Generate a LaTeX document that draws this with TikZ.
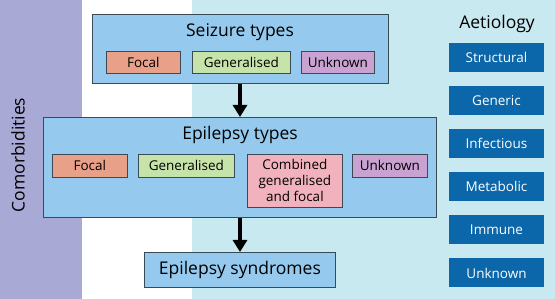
\documentclass[tikz,border=0pt]{standalone}
\usepackage{fontspec}
\setmainfont{Open Sans}
\usetikzlibrary{arrows.meta}
\definecolor{purp}{HTML}{A9A9D6}
\definecolor{cyanbg}{HTML}{C9E9F1}
\definecolor{boxblue}{HTML}{95CAEE}
\definecolor{focalc}{HTML}{E9A088}
\definecolor{genc}{HTML}{C6E4AA}
\definecolor{unkc}{HTML}{C9A2D2}
\definecolor{combc}{HTML}{F1B2BD}
\definecolor{aetc}{HTML}{0B67A9}
\definecolor{edge}{HTML}{3A4A55}
\tikzset{
  bigbox/.style={draw=edge, line width=0.8pt, fill=boxblue},
  small/.style={draw=edge, line width=0.7pt, inner sep=0pt, font=\fontsize{13.5}{16}\selectfont, text=black},
  aet/.style={fill=aetc, inner sep=0pt, minimum width=95pt, minimum height=29pt, text=white, font=\fontsize{13.5}{15}\selectfont},
  title/.style={font=\fontsize{17.5}{20}\selectfont, text=black},
  flow/.style={-{Triangle[length=12pt,width=14pt]}, line width=3.5pt, black}
}
\begin{document}
\begin{tikzpicture}[x=1pt,y=-1pt]
\useasboundingbox (0,0) rectangle (555,299);
\fill[white] (0,0) rectangle (555,299);
\fill[purp] (0,0) rectangle (82,299);
\fill[cyanbg] (192,0) rectangle (555,299);
\node[rotate=90, title] (comorb) at (18,155) {Comorbidities};
% Seizure types
\node[bigbox, minimum width=296pt, minimum height=69pt, anchor=north west, inner sep=0pt] (seiz) at (92,14) {};
\node[title] (seizt) at (240,32) {Seizure types};
\node[small, fill=focalc, minimum width=74pt, minimum height=22pt, anchor=north west] (sf) at (106,51) {Focal};
\node[small, fill=genc, minimum width=98pt, minimum height=22pt, anchor=north west] (sg) at (192,51) {Generalised};
\node[small, fill=unkc, minimum width=73pt, minimum height=22pt, anchor=north west] (su) at (301,51) {Unknown};
% Epilepsy types
\node[bigbox, minimum width=393pt, minimum height=100pt, anchor=north west, inner sep=0pt] (epi) at (43,117) {};
\node[title] (epit) at (240,135) {Epilepsy types};
\node[small, fill=focalc, minimum width=75pt, minimum height=23pt, anchor=north west] (ef) at (52,154) {Focal};
\node[small, fill=genc, minimum width=96pt, minimum height=23pt, anchor=north west] (eg) at (138,154) {Generalised};
\node[small, fill=combc, minimum width=95pt, minimum height=53pt, anchor=north west, align=center] (ec) at (247,154) {Combined\\generalised\\and focal};
\node[small, fill=unkc, minimum width=75pt, minimum height=23pt, anchor=north west] (eu) at (352,154) {Unknown};
% Syndromes
\node[bigbox, minimum width=191pt, minimum height=35pt, anchor=north west, inner sep=0pt, title] (syn) at (144,252) {Epilepsy syndromes};
% arrows
\draw[flow] (seiz.south -| 240,0) -- (epi.north -| 240,0);
\draw[flow] (epi.south -| 240,0) -- (syn.north -| 240,0);
% Aetiology
\node[title] (aett) at (497,24) {Aetiology};
\node[aet] (a1) at (496.5,57.5) {Structural};
\node[aet] (a2) at (496.5,100.5) {Generic};
\node[aet] (a3) at (496.5,143.5) {Infectious};
\node[aet] (a4) at (496.5,186.5) {Metabolic};
\node[aet] (a5) at (496.5,230) {Immune};
\node[aet] (a6) at (496.5,273) {Unknown};
\end{tikzpicture}
\end{document}
